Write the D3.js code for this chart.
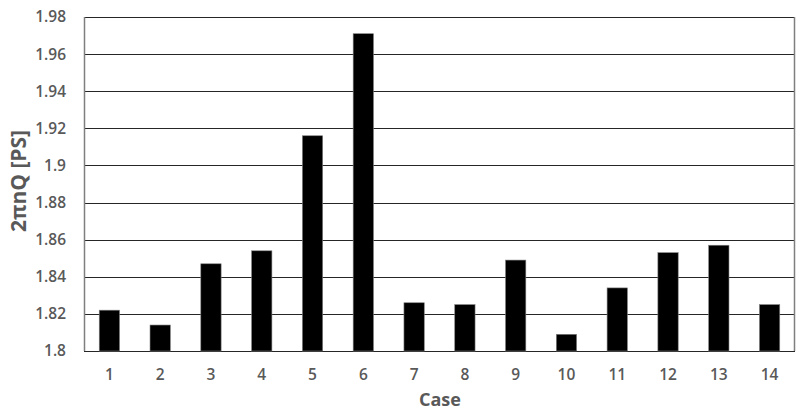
<!DOCTYPE html>
<html>
<head>
<meta charset="utf-8">
<script src="https://cdn.jsdelivr.net/npm/d3@7"></script>
<style>
    body { margin: 0; background: #fff; }
    text { font-family: "Open Sans", "DejaVu Sans", sans-serif; }
</style>
</head>
<body>
<div id="chart"></div>
<script>
    const cases = ["1", "2", "3", "4", "5", "6", "7", "8", "9", "10", "11", "12", "13", "14"];
    const values = [1.822, 1.814, 1.847, 1.854, 1.916, 1.971, 1.826, 1.825, 1.849, 1.809, 1.834, 1.853, 1.857, 1.825];
    const yTicks = [1.8, 1.82, 1.84, 1.86, 1.88, 1.9, 1.92, 1.94, 1.96, 1.98];

    const width = 800, height = 410;
    const margin = { top: 17, right: 5, bottom: 59, left: 84 };

    const svg = d3.select("#chart")
        .append("svg")
        .attr("width", width)
        .attr("height", height);

    const x = d3.scaleBand()
        .domain(cases)
        .range([margin.left, width - margin.right])
        .paddingInner(0.6)
        .paddingOuter(0.3);

    const y = d3.scaleLinear()
        .domain([1.8, 1.98])
        .range([height - margin.bottom, margin.top]);

    // gridlines
    svg.append("g")
        .selectAll("line")
        .data(yTicks)
        .join("line")
        .attr("x1", margin.left)
        .attr("x2", width - margin.right)
        .attr("y1", d => Math.round(y(d)) + 0.5)
        .attr("y2", d => Math.round(y(d)) + 0.5)
        .attr("stroke", "#262626")
        .attr("stroke-width", 1.2);

    // plot border sides
    svg.append("line")
        .attr("x1", margin.left + 0.5).attr("x2", margin.left + 0.5)
        .attr("y1", y(1.98)).attr("y2", y(1.8))
        .attr("stroke", "#7f7f7f").attr("stroke-width", 1.5);
    svg.append("line")
        .attr("x1", width - margin.right - 0.5).attr("x2", width - margin.right - 0.5)
        .attr("y1", y(1.98)).attr("y2", y(1.8))
        .attr("stroke", "#7f7f7f").attr("stroke-width", 1.5);

    // bars
    svg.append("g")
        .selectAll("rect")
        .data(values)
        .join("rect")
        .attr("x", (d, i) => x(cases[i]))
        .attr("width", x.bandwidth())
        .attr("y", d => y(d))
        .attr("height", d => y(1.8) - y(d))
        .attr("fill", "#000")
        .attr("stroke", "#808080")
        .attr("stroke-width", 0.6);

    // y tick labels
    svg.append("g")
        .selectAll("text")
        .data(yTicks)
        .join("text")
        .attr("x", 66)
        .attr("y", d => y(d))
        .attr("dy", "0.35em")
        .attr("text-anchor", "end")
        .attr("font-size", 15.5)
        .attr("font-weight", 600)
        .attr("fill", "#595959")
        .text(d => d3.format("")(d));

    // x tick labels
    svg.append("g")
        .selectAll("text")
        .data(cases)
        .join("text")
        .attr("x", d => x(d) + x.bandwidth() / 2)
        .attr("y", 380)
        .attr("text-anchor", "middle")
        .attr("font-size", 15.5)
        .attr("font-weight", 600)
        .attr("fill", "#595959")
        .text(d => d);

    // axis titles
    svg.append("text")
        .attr("x", 440)
        .attr("y", 406)
        .attr("text-anchor", "middle")
        .attr("font-size", 18)
        .attr("font-weight", 700)
        .attr("fill", "#595959")
        .text("Case");

    svg.append("text")
        .attr("transform", "translate(26,181) rotate(-90)")
        .attr("text-anchor", "middle")
        .attr("font-size", 21)
        .attr("font-weight", 700)
        .attr("fill", "#595959")
        .text("2πnQ [PS]");
</script>
</body>
</html>
